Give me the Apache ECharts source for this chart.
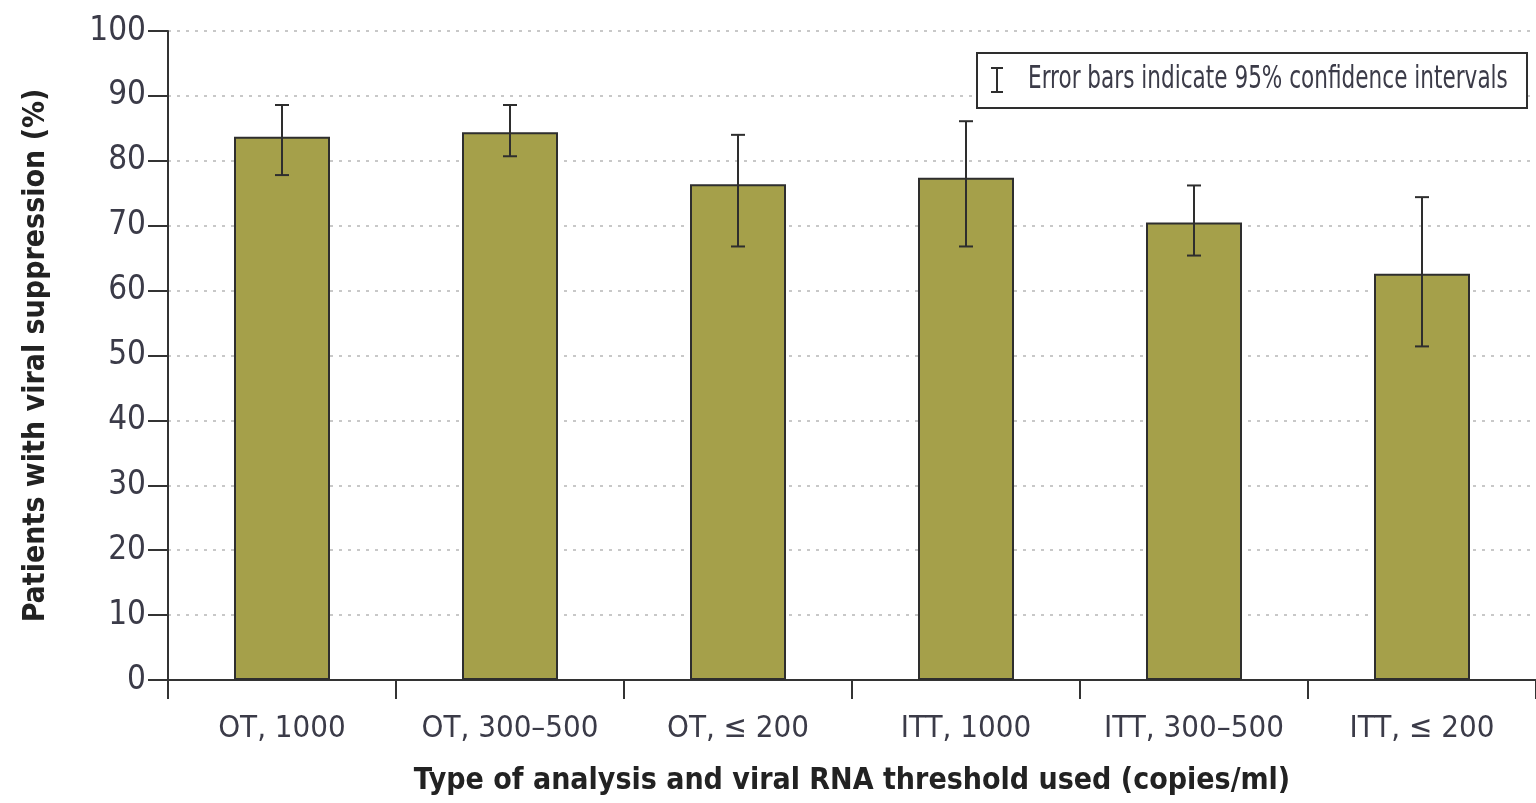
<!DOCTYPE html>
<html><head><meta charset="utf-8">
<script src="https://cdn.jsdelivr.net/npm/echarts@6/dist/echarts.min.js"></script>
<style>html,body{margin:0;padding:0;background:#fff}#c{width:1536px;height:803px}</style>
</head><body><div id="c"></div>
<script>
const categories = ['OT, 1000', 'OT, 300\u2013500', 'OT, \u2264 200', 'ITT, 1000', 'ITT, 300\u2013500', 'ITT, \u2264 200'];
const values = [83.7, 84.4, 76.4, 77.4, 70.5, 62.6];
const ciLow = [77.8, 80.7, 66.8, 66.8, 65.4, 51.4];
const ciHigh = [88.6, 88.6, 84.0, 86.1, 76.2, 74.4];
const yTicks = [0, 10, 20, 30, 40, 50, 60, 70, 80, 90, 100];

const FONT = "'DejaVu Sans Condensed', 'Liberation Sans Narrow', sans-serif";
const TXT = '#3b3b48';
const chart = echarts.init(document.getElementById('c'));
const errData = categories.map((c, i) => [i, ciLow[i], ciHigh[i]]);
chart.setOption({
  animation: false,
  grid: { left: 168, right: -7, top: 31, bottom: 123, containLabel: false },
  xAxis: {
    type: 'category', data: categories,
    axisLine: { lineStyle: { color: '#333', width: 2 } },
    axisTick: { show: true, length: 19, lineStyle: { color: '#333', width: 2 } },
    axisLabel: { color: TXT, fontFamily: FONT, fontSize: 31, margin: 33, interval: 0 },
    name: 'Type of analysis and viral RNA threshold used (copies/ml)',
    nameLocation: 'middle', nameGap: 86,
    nameTextStyle: { color: '#222', fontFamily: FONT, fontSize: 30, fontWeight: 'bold' },
    splitLine: { show: false }
  },
  yAxis: {
    type: 'value', min: 0, max: 100, interval: 10,
    axisLine: { show: true, lineStyle: { color: '#333', width: 2 } },
    axisTick: { show: true, length: 20, lineStyle: { color: '#333', width: 2 } },
    axisLabel: { color: TXT, fontFamily: FONT, fontSize: 33, margin: 22,
      formatter: v => yTicks.includes(v) ? String(v) : '' },
    splitLine: { show: true, lineStyle: { color: '#c8c8c8', width: 2, type: [3, 6] } },
    name: 'Patients with viral suppression (%)',
    nameLocation: 'middle', nameGap: 117, nameRotate: 90,
    nameTextStyle: { color: '#222', fontFamily: FONT, fontSize: 30, fontWeight: 'bold' }
  },
  series: [
    {
      type: 'bar', data: values, barWidth: 96, z: 2,
      itemStyle: { color: '#a5a04a', borderColor: '#2e2e2e', borderWidth: 2 }
    },
    {
      type: 'custom', data: errData, z: 5,
      renderItem: function (params, api) {
        const x = api.value(0);
        const lo = api.coord([x, api.value(1)]);
        const hi = api.coord([x, api.value(2)]);
        const hw = 7;
        const st = { stroke: '#2e2e2e', lineWidth: 2 };
        return { type: 'group', children: [
          { type: 'line', shape: { x1: lo[0], y1: lo[1], x2: hi[0], y2: hi[1] }, style: st },
          { type: 'line', shape: { x1: lo[0] - hw, y1: lo[1], x2: lo[0] + hw, y2: lo[1] }, style: st },
          { type: 'line', shape: { x1: hi[0] - hw, y1: hi[1], x2: hi[0] + hw, y2: hi[1] }, style: st }
        ]};
      }
    }
  ],
  graphic: [
    { type: 'rect', left: 976, top: 52, z: 10,
      shape: { width: 550, height: 55 },
      style: { fill: '#fff', stroke: '#2e2e2e', lineWidth: 2 } },
    { type: 'line', z: 12, shape: { x1: 997, y1: 68, x2: 997, y2: 92 }, style: { stroke: '#2e2e2e', lineWidth: 2 } },
    { type: 'line', z: 12, shape: { x1: 991, y1: 68, x2: 1003, y2: 68 }, style: { stroke: '#2e2e2e', lineWidth: 2 } },
    { type: 'line', z: 12, shape: { x1: 991, y1: 92, x2: 1003, y2: 92 }, style: { stroke: '#2e2e2e', lineWidth: 2 } },
    { type: 'text', x: 1028, y: 64, z: 12, scaleX: 0.8, scaleY: 1.05, originX: 0, originY: 0,
      style: { x: 0, y: 0, text: 'Error bars indicate 95% confidence intervals', fill: TXT, font: '30px ' + FONT } }
  ]
});
</script></body></html>
